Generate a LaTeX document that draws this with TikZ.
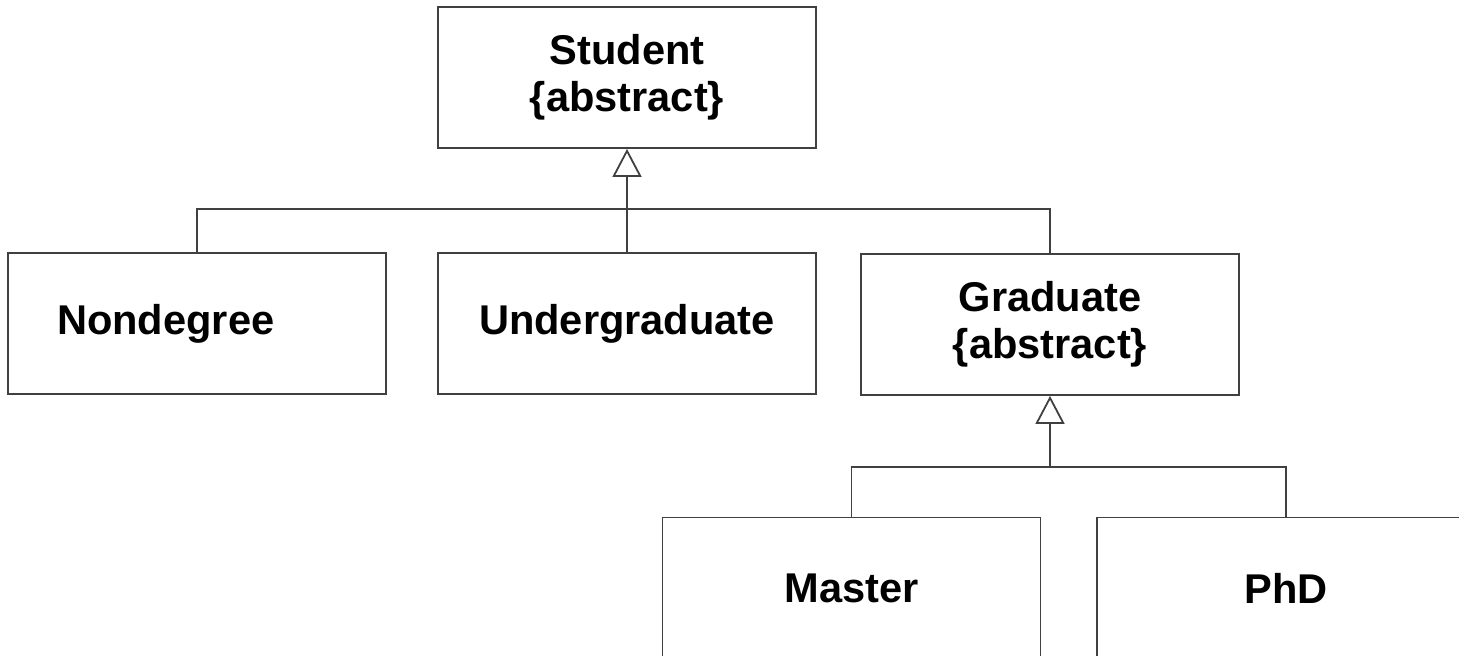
\documentclass[tikz,border=0pt]{standalone}
\usepackage{fontspec}
\setmainfont{Liberation Sans}
\usetikzlibrary{arrows.meta, positioning}

\begin{document}
\begin{tikzpicture}[x=0.5pt, y=-0.5pt,
    class/.style={draw=black!75, line width=0.9pt, minimum width=189pt,
                  minimum height=70.5pt, inner sep=2pt, align=center,
                  font=\fontsize{20.8}{23.5}\selectfont\bfseries},
    link/.style={draw=black!75, line width=0.9pt},
    isa/.style={link, -{Triangle[open, length=14pt, width=14.5pt]}}]
\useasboundingbox (0,0) rectangle (1459,655);
%
\node[class] (student) at (627,77.5)   {Student\\\{abstract\}};
\node[class, align=left, text width=140pt, inner xsep=24.5pt]
             (nondeg)  at (197,323.5)  {Nondegree};
\node[class] (under)   at (627,323.5)  {Undergraduate};
\node[class] (grad)    at (1050,324.5) {Graduate\\\{abstract\}};
\node[class] (master)  at (851.5,588) {Master};
\node[class] (phd)     at (1286,588)  {PhD};
%
\coordinate (top) at (627,209);
\coordinate (mid) at (1050,467);

\draw[link] (nondeg.north) |- (top) -| (grad.north);
\draw[isa] (under.north) -- (student.south);
\draw[link] (master.north) |- (mid) -| (phd.north);
\draw[isa] (mid) -- (grad.south);
%
\end{tikzpicture}
\end{document}
